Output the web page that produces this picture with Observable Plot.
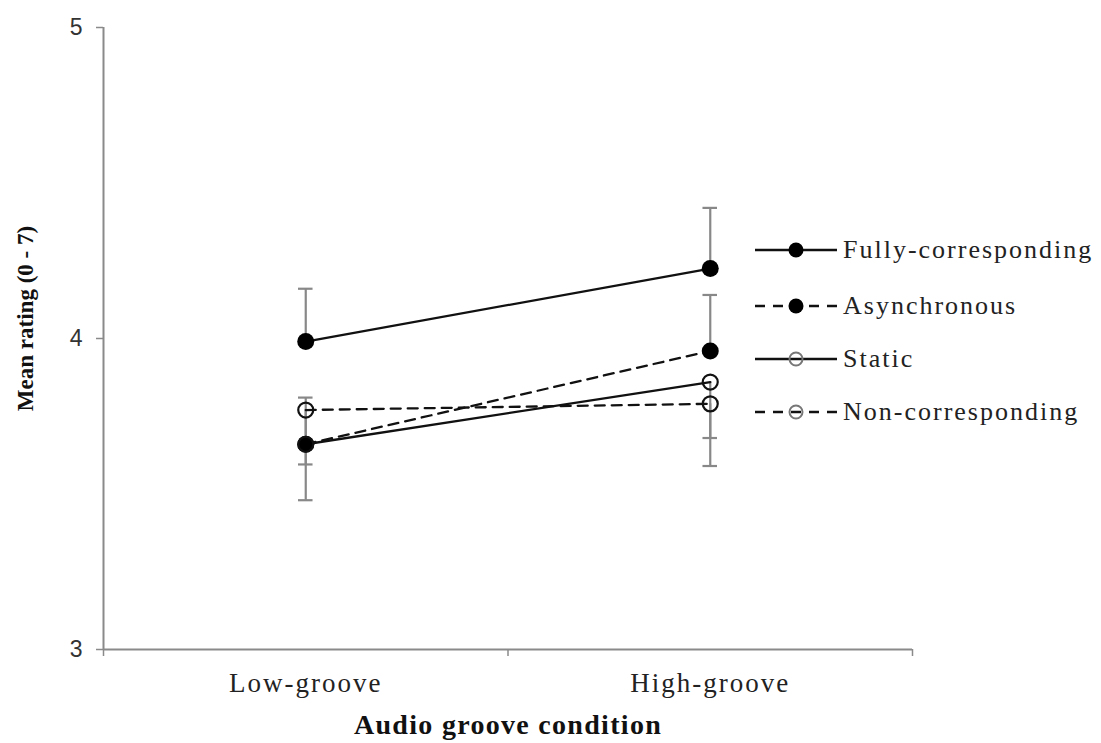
<!DOCTYPE html>
<html>
<head>
<meta charset="utf-8">
<script src="https://cdn.jsdelivr.net/npm/d3@7"></script>
<script src="https://cdn.jsdelivr.net/npm/@observablehq/plot@0.6"></script>
<style>
  html, body { margin: 0; padding: 0; background: #fff; }
  #wrap { position: relative; width: 1101px; height: 743px; }
  #legend { position: absolute; left: 755px; top: 0; font-family: "Liberation Serif", "Times New Roman", serif; font-size: 26px; color: #222; }
  .row { position: absolute; left: 0; display: flex; align-items: center; white-space: nowrap; letter-spacing: 2px; }
  .row svg { margin-right: 6px; }
  .xlab text { letter-spacing: 2px; }
  .xtitle text { letter-spacing: 1.3px; }
</style>
</head>
<body>
<div id="wrap">
  <div id="chart"></div>
  <div id="legend"></div>
</div>
<script>
// ---- data ----
const groups = ["Low-groove", "High-groove"];
const groupPos = [0.5, 1.5];
const series = ["Fully-corresponding", "Asynchronous", "Static", "Non-corresponding"];
const seriesDashed = [false, true, false, true];
const seriesFilled = [true, true, false, false];
const fullyMean = [3.99, 4.225];
const fullyErr = [4.16, 4.42];
const asyncMean = [3.66, 3.96];
const asyncErr = [3.81, 4.14];
const staticMean = [3.66, 3.86];
const staticErr = [3.48, 3.68];
const nonMean = [3.77, 3.79];
const nonErr = [3.595, 3.59];
const yTicks = [3, 4, 5];
const xTicks = [0, 1, 2];

const means = [fullyMean, asyncMean, staticMean, nonMean];
const errs = [fullyErr, asyncErr, staticErr, nonErr];

const rows = series.flatMap((s, k) => groups.map((g, i) => ({
  series: s, group: g, x: groupPos[i], mean: means[k][i], err: errs[k][i],
  dashed: seriesDashed[k], filled: seriesFilled[k]
})));

const axisColor = "#8a8a8a";
const serif = "Liberation Serif, Times New Roman, serif";
const capHalf = 0.018;

const chart = Plot.plot({
  width: 1101,
  height: 743,
  marginLeft: 103,
  marginRight: 189,
  marginTop: 27,
  marginBottom: 94,
  x: { domain: [0, 2], axis: null },
  y: { domain: [3, 5], axis: null },
  style: { background: "#fff", color: "#222" },
  marks: [
    // axes
    Plot.axisY(yTicks, { anchor: "left", tickSize: 7, tickPadding: 14, tickFormat: d => String(d), label: null,
      fontSize: 23, fontFamily: "Liberation Sans, Arial, sans-serif", stroke: axisColor, strokeWidth: 1.5, fill: "#333" }),
    Plot.axisX(xTicks, { anchor: "bottom", tickSize: 7, tickFormat: () => "", label: null,
      stroke: axisColor, strokeWidth: 1.5 }),
    Plot.ruleX([0], { y1: 3, y2: 5, stroke: axisColor, strokeWidth: 2 }),
    Plot.ruleY([3], { x1: 0, x2: 2, stroke: axisColor, strokeWidth: 2 }),
    Plot.text(groups, { x: (d, i) => groupPos[i], frameAnchor: "bottom", dy: 42,
      fontSize: 27, fontFamily: serif, fill: "#222", className: "xlab" }),
    Plot.text(["Audio groove condition"], { frameAnchor: "bottom", textAnchor: "middle", dy: 84,
      fontSize: 28, fontWeight: "bold", fontFamily: serif, fill: "#111", className: "xtitle" }),
    Plot.text(["Mean rating (0 - 7)"], { frameAnchor: "left", textAnchor: "middle", dx: -78, dy: -20, rotate: -90,
      fontSize: 23, fontWeight: "bold", fontFamily: serif, fill: "#111" }),
    // error bars
    Plot.ruleX(rows, { x: "x", y1: "mean", y2: "err", stroke: "#888", strokeWidth: 2.2 }),
    Plot.ruleY(rows, { y: "err", x1: d => d.x - capHalf, x2: d => d.x + capHalf, stroke: "#888", strokeWidth: 2.2 }),
    // lines
    Plot.line(rows.filter(d => !d.dashed), { x: "x", y: "mean", z: "series", stroke: "#111", strokeWidth: 2.3 }),
    Plot.line(rows.filter(d => d.dashed), { x: "x", y: "mean", z: "series", stroke: "#111", strokeWidth: 2.3, strokeDasharray: "10,7" }),
    // points
    Plot.dot(rows.filter(d => d.filled), { x: "x", y: "mean", r: 8.5, fill: "#000", stroke: "none" }),
    Plot.dot(rows.filter(d => !d.filled), { x: "x", y: "mean", r: 7.5, fill: "none", stroke: "#111", strokeWidth: 2.2 })
  ]
});
document.getElementById("chart").appendChild(chart);

// ---- legend ----
const legendTops = [250, 306, 359, 412];
const legend = document.getElementById("legend");
series.forEach((s, k) => {
  const row = document.createElement("div");
  row.className = "row";
  row.style.top = (legendTops[k] - 16) + "px";
  row.style.height = "32px";
  const dash = seriesDashed[k] ? ' stroke-dasharray="10,8"' : "";
  const marker = seriesFilled[k]
    ? '<circle cx="41" cy="16" r="7.5" fill="#000"/>'
    : '<circle cx="41" cy="16" r="6.5" fill="none" stroke="#777" stroke-width="2"/>';
  row.innerHTML = `<svg width="82" height="32"><line x1="0" x2="82" y1="16" y2="16" stroke="#111" stroke-width="2.5"${dash}/>${marker}</svg><span>${s}</span>`;
  legend.appendChild(row);
});
</script>
</body>
</html>
